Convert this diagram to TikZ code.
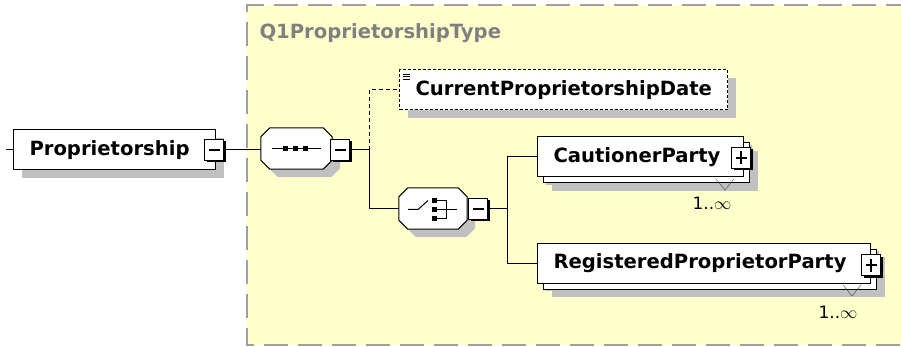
\documentclass[tikz,border=0pt]{standalone}
\usepackage{fontspec}
\setmainfont{DejaVu Sans}
\usetikzlibrary{shadows}
\definecolor{lightyellow}{HTML}{FFFFCC}
\definecolor{bordergray}{HTML}{A0A0A0}
\definecolor{shadowgray}{HTML}{C0C0C0}
\definecolor{labelgray}{HTML}{808080}
\newcommand\octpath[1]{([xshift=9pt]#1.north west) -- ([xshift=-9pt]#1.north east) -- ([yshift=-9pt]#1.north east)
  -- ([yshift=9pt]#1.south east) -- ([xshift=-9pt]#1.south east) -- ([xshift=9pt]#1.south west)
  -- ([yshift=9pt]#1.south west) -- ([yshift=-9pt]#1.north west) -- cycle}

\begin{document}
\begin{tikzpicture}[x=1pt,y=-1pt,
  elem/.style={draw, fill=white, line width=1pt, minimum height=40, inner xsep=16, inner ysep=0, align=left,
    font=\fontsize{19.6}{22}\selectfont\bfseries, general shadow={fill=shadowgray, shadow xshift=8pt, shadow yshift=-8pt}},
  multi/.style={elem, general shadow={fill=shadowgray, shadow xshift=14pt, shadow yshift=-14pt},
    copy shadow={shadow xshift=6pt, shadow yshift=-6pt}},
  optional/.style={elem, dashed, dash pattern=on 3pt off 2pt},
  compositor/.style={minimum width=71, minimum height=41, inner sep=0},
  octagon/.style={draw, fill=white, line width=1pt, general shadow={fill=shadowgray, shadow xshift=8pt, shadow yshift=-8pt}},
  toggle/.style={draw, fill=white, line width=1pt, minimum width=19, minimum height=21, inner sep=0,
    general shadow={fill=black, shadow xshift=2pt, shadow yshift=-2pt}},
  minus/.style={toggle, path picture={\draw[line width=1.2pt] ([xshift=4]path picture bounding box.west) -- ([xshift=-4]path picture bounding box.east);}},
  plus/.style={toggle, path picture={\draw[line width=1.2pt] ([xshift=4]path picture bounding box.west) -- ([xshift=-4]path picture bounding box.east);
    \draw[line width=1.2pt] ([yshift=4]path picture bounding box.south) -- ([yshift=-4]path picture bounding box.north);}},
  card/.style={font=\fontsize{17}{19}\selectfont},
  line/.style={line width=1pt}]
\useasboundingbox (0,0) rectangle (901,347);
\fill[lightyellow] (247,5) rectangle (910,345);
\draw[bordergray, line width=2pt, dash pattern=on 24pt off 10pt] (910,5) -- (247,5) -- (247,345) -- (910,345);
\node[anchor=west, text=labelgray, font=\fontsize{19.6}{22}\selectfont\bfseries] (typename) at (256,33) {Q1ProprietorshipType};

\coordinate (in) at (6,150);
\coordinate (j1) at (369,150);
\coordinate (j2) at (507,209);

\draw[line] (in) -- (20,150);
\draw[line] (214,150) -- (296,150);
\draw[line] (340,150) -- (j1);
\draw[line, dashed, dash pattern=on 4pt off 3pt] (j1) |- (399,90);
\draw[line] (j1) |- (433,209);
\draw[line] (478,209) -- (j2);
\draw[line] (j2) |- (600,157);
\draw[line] (j2) |- (600,263);

\node[elem, anchor=west, text width=170] (prop) at (13,150) {Proprietorship};
\node[minus] (propm) at (214,150) {};

\node[compositor] (seq) at (296.5,148.5) {};
\draw[octagon] \octpath{seq};
\draw[line] ([xshift=-25]seq.center) -- ([xshift=24]seq.center);
\foreach \dx in {-11,-1,9} \fill ([shift={(\dx-2.5,-2.5)}]seq.center) rectangle ++(5,5);
\node[minus] (seqm) at (340,150) {};

\node[optional, anchor=west, text width=296] (cpd) at (399,90) {CurrentProprietorshipDate};
\foreach \dy in {-16,-13.5,-11} \draw[line width=0.8pt] ([shift={(4,\dy)}]cpd.west) -- ++(7,0);

\node[compositor, minimum width=68] (cho) at (433,208.5) {};
\draw[octagon] \octpath{cho};
\draw[line] ([shift={(-25,1)}]cho.center) -- ++(10,0) -- ++(10,-9);
\foreach \dy in {-8,1,10} \fill ([shift={(-1,\dy-2.5)}]cho.center) rectangle ++(5,5);
\draw[line] ([shift={(4,-8)}]cho.center) -- ++(9,0) -- ++(0,18) -- ++(-9,0);
\draw[line] ([shift={(4,1)}]cho.center) -- ++(20,0);
\node[minus] (chom) at (478,209) {};

\node[multi, anchor=west, text width=174] (caut) at (537,157) {CautionerParty};
\node[plus] (cautp) at (741,158) {};
\draw[darkgray] (716,179) -- (725,190) -- (734,179);
\node[card] (cautc) at (712,203) {1..$\infty$};

\node[multi, anchor=west, text width=301] (reg) at (537,263) {RegisteredProprietorParty};
\node[plus] (regp) at (871,265) {};
\draw[darkgray] (843,285) -- (852,296) -- (861,285);
\node[card] (regc) at (838,312) {1..$\infty$};
\end{tikzpicture}
\end{document}
